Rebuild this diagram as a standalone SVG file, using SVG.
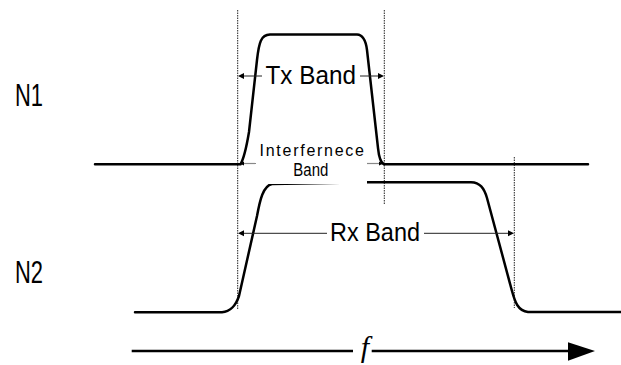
<svg xmlns="http://www.w3.org/2000/svg" width="621" height="365" viewBox="0 0 621 365">
<style>
.curve{fill:none;stroke:#000;stroke-width:2.5;stroke-linejoin:round;stroke-linecap:round}
.guide{fill:none;stroke:#222;stroke-width:1;stroke-dasharray:1.5 1}
.dim{fill:none;stroke:#222;stroke-width:1}
.dimg{fill:none;stroke:#888;stroke-width:1.2}
.head{fill:#000}
.lbl{font-family:"Liberation Sans",Arial,sans-serif;fill:#000}
</style>
<rect width="621" height="365" fill="#fff"/>
<g id="guides">
<line class="guide" x1="237.7" y1="10" x2="237.7" y2="310"/>
<line class="guide" x1="384.3" y1="10" x2="384.3" y2="205"/>
<line class="guide" x1="514.3" y1="157" x2="514.3" y2="308"/>
</g>
<g id="n2">
<path class="curve" d="M135,312.3 L222,312.3 C230,312 236,305 239,296 L257,216 C260,200 263,186 272,184 L368,182.3 L471,182.3 C480,182.5 484,188 487,198 L512,291 C515,302 518,311 528,312 L621,312"/>
<text class="lbl" x="15" y="283" font-size="32" textLength="28" lengthAdjust="spacingAndGlyphs">N2</text>
</g>
<g id="interference">
<rect x="256" y="141" width="111" height="43" fill="#fff"/>
<line class="dimg" x1="240" y1="163.5" x2="256" y2="163.5"/>
<line class="dimg" x1="367" y1="163.5" x2="383" y2="163.5"/>
<polygon class="head" points="239.5,163.5 244,161.5 244,165.5"/>
<polygon class="head" points="383.5,163.5 379,161.5 379,165.5"/>
<text class="lbl" x="259.5" y="156" font-size="16" textLength="104.5" lengthAdjust="spacing">Interfernece</text>
<text class="lbl" x="293.3" y="175.5" font-size="17.5" textLength="35" lengthAdjust="spacingAndGlyphs">Band</text>
</g>
<g id="n1">
<path class="curve" d="M95,164.3 L240.5,164.3 C243,160 246,150 249,132 L257,60 C259,42 261,35 270,34.6 L357,34.6 C364,35 366,42 367,50 L378,148 C379,158 381,163 384,164.3 L588,164.3"/>
<text class="lbl" x="15" y="106" font-size="32" textLength="28" lengthAdjust="spacingAndGlyphs">N1</text>
</g>
<g id="connectors">
<g id="tx-band">
<line class="dim" x1="240" y1="76" x2="262" y2="76"/>
<line class="dim" x1="360" y1="76" x2="382" y2="76"/>
<polygon class="head" points="238,76 244,73 244,79"/>
<polygon class="head" points="384,76 378,73 378,79"/>
</g>
<g id="rx-band">
<line class="dim" x1="240" y1="233.3" x2="327" y2="233.3"/>
<line class="dim" x1="424" y1="233.3" x2="512" y2="233.3"/>
<polygon class="head" points="238,233.3 244,230.3 244,236.3"/>
<polygon class="head" points="514,233.3 508,230.3 508,236.3"/>
</g>
<g id="f-axis">
<line x1="131.7" y1="351" x2="353" y2="351" stroke="#000" stroke-width="2.5"/>
<line x1="371.7" y1="351" x2="569" y2="351" stroke="#000" stroke-width="2.5"/>
<polygon class="head" points="568,342.3 595,351 568,360.7"/>
</g>
</g>
<g id="labels">
<text class="lbl" x="265.5" y="83.5" font-size="26" textLength="90.5" lengthAdjust="spacingAndGlyphs">Tx Band</text>
<text class="lbl" x="330" y="241.2" font-size="26" textLength="90" lengthAdjust="spacingAndGlyphs">Rx Band</text>
<text x="365" y="357" font-family="'Liberation Serif','Times New Roman',serif" font-style="italic" font-size="30" text-anchor="middle">f</text>
</g>
</svg>
